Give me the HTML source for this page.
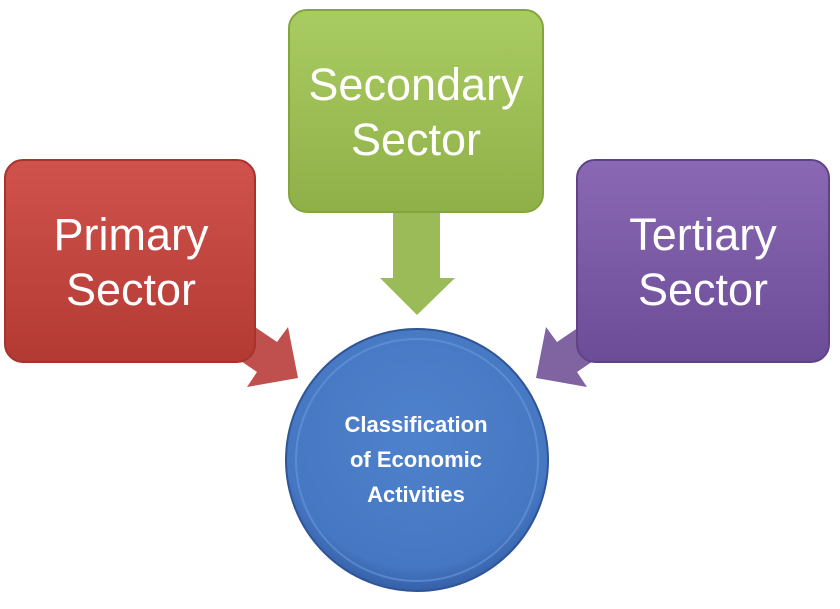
<!DOCTYPE html>
<html><head><meta charset="utf-8"><style>
html,body{margin:0;padding:0;background:#fff;}
svg{display:block;}
</style></head><body>
<svg width="840" height="609" viewBox="0 0 840 609" xmlns="http://www.w3.org/2000/svg">
<defs>
<linearGradient id="r" x1="0" y1="0" x2="0" y2="1"><stop offset="0" stop-color="#d0524d"/><stop offset="1" stop-color="#b33a33"/></linearGradient>
<linearGradient id="g" x1="0" y1="0" x2="0" y2="1"><stop offset="0" stop-color="#a9cc62"/><stop offset="1" stop-color="#8fb048"/></linearGradient>
<linearGradient id="p" x1="0" y1="0" x2="0" y2="1"><stop offset="0" stop-color="#8a68b4"/><stop offset="1" stop-color="#6c4c97"/></linearGradient>
<radialGradient id="b" cx="0.5" cy="0.4" r="0.6"><stop offset="0" stop-color="#4f82cc"/><stop offset="0.85" stop-color="#4677c2"/><stop offset="1" stop-color="#3560a8"/></radialGradient>
</defs>
<polygon points="393,212 440,212 440,278 455,278 417,315 380,278 393,278" fill="#9bbb59"/>
<polygon points="277,342 288,327 298,378 247,387 257,372 207,338 227,308" fill="#c0504d"/>
<polygon points="557,342 546,327 536,378 587,387 577,372 627,338 607,308" fill="#8064a2"/>
<rect x="5" y="160" width="250" height="202" rx="18" fill="url(#r)" stroke="#a8332d" stroke-width="2"/>
<rect x="289" y="10" width="254" height="202" rx="18" fill="url(#g)" stroke="#84a43e" stroke-width="2"/>
<rect x="577" y="160" width="252" height="202" rx="18" fill="url(#p)" stroke="#5f4387" stroke-width="2"/>
<circle cx="417" cy="460" r="131" fill="url(#b)" stroke="#2f5597" stroke-width="2"/>
<circle cx="417" cy="460" r="121" fill="none" stroke="#6b98da" stroke-width="2" opacity="0.6"/>
<g font-family="Liberation Sans, sans-serif" fill="#fff" text-anchor="middle" font-size="45">
<text x="131" y="250">Primary</text>
<text x="131" y="305">Sector</text>
<text x="416" y="100">Secondary</text>
<text x="416" y="155">Sector</text>
<text x="703" y="250">Tertiary</text>
<text x="703" y="305">Sector</text>
</g>
<g font-family="Liberation Sans, sans-serif" fill="#fff" text-anchor="middle" font-size="22" font-weight="bold">
<text x="416" y="432">Classification</text>
<text x="416" y="467">of Economic</text>
<text x="416" y="502">Activities</text>
</g>
</svg>
</body></html>
